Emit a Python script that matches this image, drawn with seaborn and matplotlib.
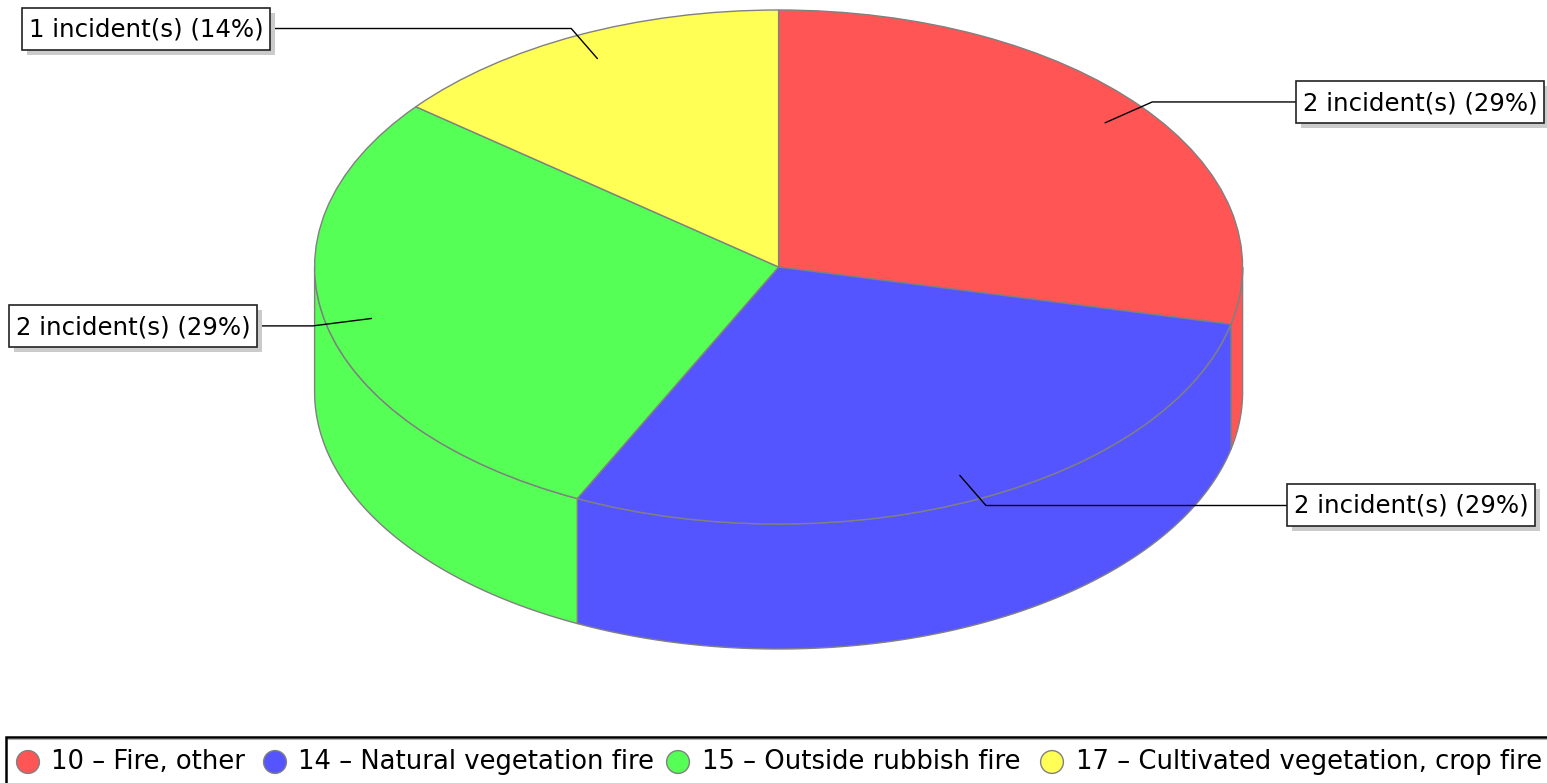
import numpy as np
import matplotlib
matplotlib.use("Agg")
import matplotlib.pyplot as plt
from matplotlib.patches import Rectangle
import seaborn as sns

# Sample dataset
categories = ["10 \u2013 Fire, other", "14 \u2013 Natural vegetation fire",
              "15 \u2013 Outside rubbish fire", "17 \u2013 Cultivated vegetation, crop fire"]
incidents = [2, 2, 2, 1]
colors = ["#FF5555", "#5555FF", "#55FF55", "#FFFF55"]

W, H = 1547, 783
EDGE = "#808080"

sns.set_theme(style="white")
plt.rcParams["font.family"] = ["DejaVu Sans"]
palette = sns.color_palette(colors)

fig = plt.figure(figsize=(W / 100, H / 100), dpi=100, facecolor="white")

# pie goes in an axes the size of the ellipse, so it gets squashed
cx, cy, rx, ry, depth = 778.6, 267, 464, 257, 125
ax = fig.add_axes([(cx - rx) / W, 1 - (cy + ry) / H, 2 * rx / W, 2 * ry / H])
wedges, _ = ax.pie(incidents, colors=palette, startangle=90, counterclock=False,
                   radius=1, wedgeprops={"edgecolor": EDGE, "linewidth": 1.0, "zorder": 5})
ax.set_aspect("auto")
ax.set_xlim(-1, 1)
ax.set_ylim(-1, 1)
d = depth / ry

# side wall of the cake, only the front half shows
for w, c in zip(wedges, palette):
    t1, t2 = max(w.theta1, -180), min(w.theta2, 0)
    if t2 <= t1:
        continue
    t = np.radians(np.linspace(t1, t2, 100))
    xs = np.r_[np.cos(t), np.cos(t[::-1])]
    ys = np.r_[np.sin(t), np.sin(t[::-1]) - d]
    ax.fill(xs, ys, facecolor=c, edgecolor=EDGE, linewidth=1.0, clip_on=False, zorder=2)

# overlay in pixels for labels and legend
ov = fig.add_axes([0, 0, 1, 1], facecolor="none")
ov.set_xlim(0, W)
ov.set_ylim(H, 0)
ov.axis("off")

boxes = [(1296, 81), (1287, 484), (9, 305), (22, 8)]
box_w, box_h = 248, 42
total = sum(incidents)
for w, n, (bx, by) in zip(wedges, incidents, boxes):
    mid = np.radians((w.theta1 + w.theta2) / 2)
    ax_x, ax_y = cx + 0.9 * rx * np.cos(mid), cy - 0.9 * ry * np.sin(mid)
    el_x, el_y = cx + 1.03 * rx * np.cos(mid), cy - 1.03 * ry * np.sin(mid)
    side = bx if el_x < bx else bx + box_w
    ov.plot([ax_x, el_x, side], [ax_y, el_y, el_y], color="black", lw=1.0, zorder=3)
    ov.add_patch(Rectangle((bx + 5, by + 5), box_w, box_h, facecolor="#CBCBCB", edgecolor="none", zorder=4))
    ov.add_patch(Rectangle((bx, by), box_w, box_h, facecolor="white", edgecolor="#222222", lw=1.2, zorder=5))
    ov.text(bx + box_w / 2, by + box_h / 2 + 1, f"{n} incident(s) ({n / total:.0%})", ha="center", va="center",
            fontsize=17.6, color="black", zorder=6)

# legend strip, cut by the bottom of the image
ov.plot([6, 6, W], [H, 736.5, 736.5], color="black", lw=1.8, solid_joinstyle="miter", zorder=3)
ov.plot([8, W], [738.5, 738.5], color="#B0B0B0", lw=0.8, zorder=3)
dot_x = [28, 275, 678, 1052]
text_x = [51, 298, 702, 1076]
sns.scatterplot(x=dot_x, y=[762] * 4, hue=categories, palette=palette, s=270, edgecolor=EDGE,
                linewidth=1.0, legend=False, ax=ov, clip_on=False)
ov.set_xlim(0, W)
ov.set_ylim(H, 0)
for x, c in zip(text_x, categories):
    ov.text(x, 762, c, ha="left", va="center", fontsize=18.6, color="black")

fig.savefig("out.png", dpi=100)
